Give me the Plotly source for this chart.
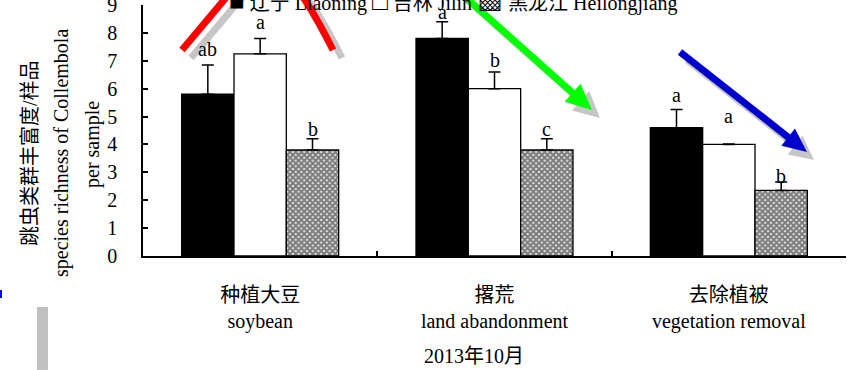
import plotly.graph_objects as go

# ---------------- data ----------------
categories = ["种植大豆<br>soybean", "撂荒<br>land abandonment", "去除植被<br>vegetation removal"]
series_names = ["辽宁 Liaoning", "吉林 Jilin", "黑龙江 Heilongjiang"]
legend_symbols = ["■", "□", "▩"]
liaoning = [5.8, 7.8, 4.6]
liaoning_err = [1.05, 0.6, 0.65]
jilin = [7.25, 6.0, 4.0]
jilin_err = [0.55, 0.6, 0.02]
heilongjiang = [3.8, 3.8, 2.35]
heilongjiang_err = [0.4, 0.4, 0.3]
liaoning_letters = ["ab", "a", "a"]
jilin_letters = ["a", "b", "a"]
heilongjiang_letters = ["b", "c", "b"]
liaoning_letter_y = [7.42, 8.75, 5.77]
jilin_letter_y = [8.39, 7.03, 5.02]
heilongjiang_letter_y = [4.55, 4.55, 2.87]
y_ticks = list(range(0, 10))
x_title = "2013年10月"
y_title_lines = ["跳虫类群丰富度/样品", "species richness of Collembola", "per sample"]

FONT = "Liberation Serif, 'Times New Roman', 'Noto Sans CJK SC', serif"
W, H = 847, 370
L, R, T, B = 143, 1, 5, 114
PW, PH = W - L - R, H - T - B


def px(x, y):
    return (x - L) / PW, (H - B - y) / PH


fig = go.Figure()
err_style = dict(type="data", symmetric=False, color="black", thickness=1.5, width=6)
fig.add_trace(go.Bar(x=categories, y=liaoning, name=series_names[0],
                     marker=dict(color="black", line=dict(color="black", width=1.3)),
                     error_y=dict(array=liaoning_err, arrayminus=[0] * 3, **err_style)))
fig.add_trace(go.Bar(x=categories, y=jilin, name=series_names[1],
                     marker=dict(color="white", line=dict(color="black", width=1.3)),
                     error_y=dict(array=jilin_err, arrayminus=[0] * 3, **err_style)))
fig.add_trace(go.Bar(x=categories, y=heilongjiang, name=series_names[2],
                     marker=dict(color="white", line=dict(color="black", width=1.3),
                                 pattern=dict(shape="x", size=4, solidity=0.8,
                                              fgcolor="black", bgcolor="white")),
                     error_y=dict(array=heilongjiang_err, arrayminus=[0] * 3, **err_style)))

annotations = []
bar_w = (1 - 0.33) / 3
for k, (letters, ly) in enumerate([(liaoning_letters, liaoning_letter_y),
                                   (jilin_letters, jilin_letter_y),
                                   (heilongjiang_letters, heilongjiang_letter_y)]):
    for i, (t, yv) in enumerate(zip(letters, ly)):
        annotations.append(dict(x=i + (k - 1) * bar_w, y=yv, xref="x", yref="y", text=t,
                                showarrow=False, font=dict(family=FONT, size=20, color="black"),
                                xanchor="center", yanchor="middle"))

# legend line (top, partly cut off as in the reference)
legend_text = "\u00a0".join(f"<span style='font-size:26px'>{s}</span>\u00a0{n}"
                            for s, n in zip(legend_symbols, series_names))
xp, yp = px(453, 1)
annotations.append(dict(x=xp, y=yp, xref="paper", yref="paper", text=legend_text, showarrow=False,
                        font=dict(family=FONT, size=20, color="black"),
                        xanchor="center", yanchor="middle"))

# y title lines
for (cx, cy), line in zip([(30, 153), (62, 153), (92, 145)], y_title_lines):
    xp, yp = px(cx, cy)
    annotations.append(dict(x=xp, y=yp, xref="paper", yref="paper", text=line, textangle=-90,
                            showarrow=False, font=dict(family=FONT, size=20, color="black"),
                            xanchor="center", yanchor="middle"))
# x title
xp, yp = px(474, 356)
annotations.append(dict(x=xp, y=yp, xref="paper", yref="paper", text=x_title, showarrow=False,
                        font=dict(family=FONT, size=20, color="black"),
                        xanchor="center", yanchor="middle"))

shapes = []


def path_shape(pts_cmd, color, width=0, fill=None):
    d = dict(type="path", xref="paper", yref="paper", path=pts_cmd, layer="above",
             line=dict(color=color, width=width))
    if fill:
        d["fillcolor"] = fill
    return d


def P(x, y):
    a, b = px(x, y)
    return f"{a:.5f},{b:.5f}"


def arrow(x0, y0, x1, y1, color, width, hl, hw):
    dx, dy = x1 - x0, y1 - y0
    n = (dx * dx + dy * dy) ** 0.5
    ux, uy = dx / n, dy / n
    bx, by = x1 - hl * ux, y1 - hl * uy
    nx, ny = -uy, ux
    out = [path_shape(f"M{P(x0, y0)} L{P(bx + ux * 2, by + uy * 2)}", color, width)]
    out.append(path_shape(f"M{P(x1, y1)} L{P(bx + hw * nx, by + hw * ny)} L{P(bx - hw * nx, by - hw * ny)} Z",
                          color, 0, color))
    return out


def red_arc(ox, oy, color):
    return path_shape(f"M{P(182 + ox, 50 + oy)} L{P(224 + ox, 0 + oy)} Q{P(264 + ox, -50 + oy)} {P(305 + ox, 0 + oy)} "
                      f"Q{P(318 + ox, 20 + oy)} {P(333 + ox, 50 + oy)}", color, 7)


gray = "#c6c6c6"
shapes.append(red_arc(9, 8, gray))
shapes.append(red_arc(0, 0, "#ff0000"))
shapes += arrow(455 + 8, -12 + 8, 592 + 8, 110 + 8, gray, 7, 26, 13)
shapes += arrow(455, -12, 592, 110, "#00ff00", 7, 26, 12)
shapes += arrow(680 + 7, 52 + 8, 807 + 7, 152 + 8, gray, 7, 24, 12)
shapes += arrow(680, 52, 807, 152, "#0000cc", 7, 24, 11)
# stray marks on the page edge
shapes.append(dict(type="rect", xref="paper", yref="paper",
                   x0=px(0, 0)[0], x1=px(2, 0)[0], y0=px(0, 298)[1], y1=px(0, 290)[1],
                   fillcolor="#0000ff", line=dict(width=0), layer="above"))
shapes.append(dict(type="rect", xref="paper", yref="paper",
                   x0=px(37, 0)[0], x1=px(48, 0)[0], y0=px(0, 372)[1], y1=px(0, 307)[1],
                   fillcolor="#c0c0c0", line=dict(width=0), layer="above"))

fig.update_layout(
    width=W, height=H,
    margin=dict(l=L, r=R, t=T, b=B, autoexpand=False),
    paper_bgcolor="white", plot_bgcolor="white",
    barmode="group", bargap=0.33, bargroupgap=0,
    font=dict(family=FONT, size=20, color="black"),
    showlegend=False,
    annotations=annotations,
    shapes=shapes,
)
fig.update_xaxes(type="category", showline=True, linecolor="black", linewidth=1.5,
                 ticks="inside", ticklen=5, tickwidth=1.5, tickcolor="black", tickson="boundaries",
                 ticklabelstandoff=20, range=[-0.5, 2.5], showgrid=False, zeroline=False,
                 tickfont=dict(family=FONT, size=20, color="black"))
fig.update_yaxes(range=[0, 9], tickvals=y_ticks, showline=True, linecolor="black", linewidth=1.5,
                 ticks="inside", ticklen=5, tickwidth=1.5, tickcolor="black",
                 ticklabelstandoff=20, ticklabeloverflow="allow", showgrid=False, zeroline=False,
                 tickfont=dict(family=FONT, size=20, color="black"))

fig.write_html("out.html", config={"displayModeBar": False},
               post_script="document.body.style.margin='0';document.body.style.overflow='hidden';")
